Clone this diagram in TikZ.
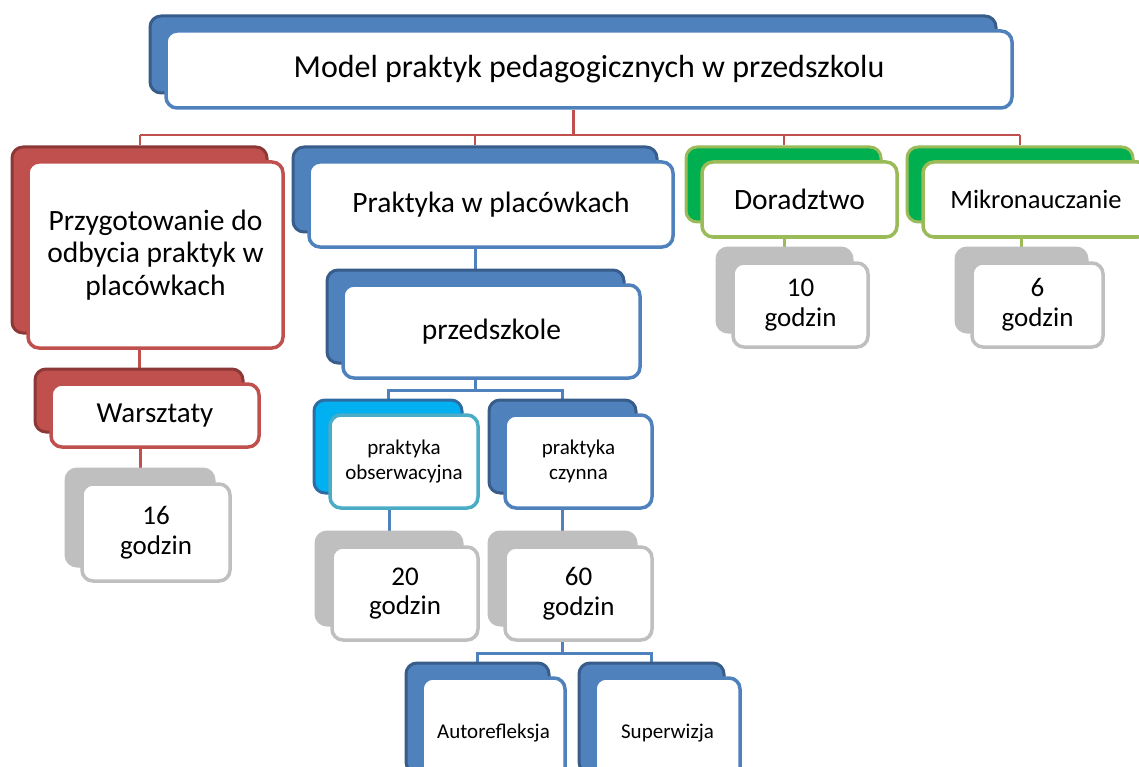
\documentclass[tikz,border=0pt]{standalone}
\usepackage{fontspec}
\setmainfont{Carlito}
\pgfdeclarelayer{bg}
\pgfsetlayers{bg,main}
\definecolor{bl}{HTML}{4F81BD}
\definecolor{bld}{HTML}{385D8A}
\definecolor{rd}{HTML}{C0504D}
\definecolor{rdd}{HTML}{8C3836}
\definecolor{gy}{HTML}{BFBFBF}
\definecolor{gn}{HTML}{00B050}
\definecolor{gnl}{HTML}{9BBB59}
\definecolor{cy}{HTML}{00B0F0}
\definecolor{cyd}{HTML}{2E6DA4}
\definecolor{cyl}{HTML}{4BACC6}
\tikzset{
  backbox/.style={rectangle,rounded corners=11pt,line width=3pt,inner sep=0pt},
  frontbox/.style={rectangle,rounded corners=11pt,line width=3.5pt,fill=white,inner sep=0pt,align=center,text=black},
  blueback/.style={fill=bl,draw=bld},
  bluefront/.style={draw=bl},
  redback/.style={fill=rd,draw=rdd},
  redfront/.style={draw=rd},
  greyback/.style={fill=gy,draw=gy},
  greyfront/.style={draw=gy},
  greenback/.style={fill=gn,draw=gnl},
  greenfront/.style={draw=gnl},
  cyanback/.style={fill=cy,draw=cyd},
  cyanfront/.style={draw=cyl},
  redline/.style={draw=rd,line width=2pt},
  redthick/.style={draw=rd,line width=3pt},
  blueline/.style={draw=bl,line width=3pt},
  greenline/.style={draw=gnl,line width=2.5pt},
}
% #1 name, #2 kind, #3 x, #4 y (front top-left), #5 w, #6 h, #7 font size, #8 text
\newcommand\cbox[9][110]{%
  \node[backbox,#3back,minimum width=#6pt,minimum height=#7pt] (#2b) at (#4-16+#6/2,#5-15+#7/2) {};
  \node[frontbox,#3front,minimum width=#6pt,minimum height=#7pt,font=\fontsize{#8}{\the\dimexpr #8pt*#1/100\relax}\selectfont] (#2) at (#4+#6/2,#5+#7/2) {#9};
}
\begin{document}
\begin{tikzpicture}[x=1pt,y=-1pt]
\useasboundingbox (0,0) rectangle (1139,767);
\clip (0,0) rectangle (1139,767);

\cbox{top}{blue}{166}{31}{846}{77}{32}{Model praktyk pedagogicznych w przedszkolu}
\cbox{prz}{red}{28}{162}{255}{186}{29.5}{Przygotowanie do\\odbycia praktyk w\\placówkach}
\cbox{war}{red}{51}{384}{208}{63}{29}{Warsztaty}
\cbox{h16}{grey}{82}{484}{148}{97}{27}{16\\godzin}
\cbox{pla}{blue}{309}{162}{364}{85}{29.5}{Praktyka w placówkach}
\cbox{prd}{blue}{343}{285}{297}{93}{29.5}{przedszkole}
\cbox[118]{obs}{cyan}{330}{415}{148}{93}{21}{praktyka\\obserwacyjna}
\cbox[118]{czy}{blue}{505}{415}{147}{93}{21}{praktyka\\czynna}
\cbox{h20}{grey}{332}{547}{146}{93}{27}{20\\godzin}
\cbox{h60}{grey}{505}{547}{147}{93}{27}{60\\godzin}
\cbox{aut}{blue}{422}{678}{143}{110}{21}{Autorefleksja}
\cbox{sup}{blue}{595}{678}{145}{110}{21}{Superwizja}
\cbox{dor}{green}{702}{162}{195}{75}{29.5}{Doradztwo}
\cbox{h10}{grey}{733}{263}{135}{84}{27}{10\\godzin}
\cbox{mik}{green}{923}{162}{226}{75}{26.5}{Mikronauczanie}
\cbox{h6}{grey}{972}{263}{131}{84}{27}{6\\godzin}

\coordinate (hub) at (573,135);
\begin{pgfonlayer}{bg}
  \fill[white] (0,0) rectangle (1139,767);
  \draw[redthick] (top.south -| hub) -- (hub);
  \draw[redline] (przb.north |- hub) -- (mikb.north |- hub);
  \foreach \c in {przb,plab,dorb,mikb}
    \draw[redline] (\c.north) -- (\c.north |- hub);
  \draw[redthick] (warb.north) -- (warb.north |- prz.south);
  \draw[redthick] (h16b.north) -- (h16b.north |- war.south);
  \draw[blueline] (prdb.north) -- (prdb.north |- pla.south);
  \coordinate (b1) at (prdb.south |- 0,390);
  \draw[blueline] (b1 |- prd.south) -- (b1) -| (obsb.north);
  \draw[blueline] (b1) -| (czyb.north);
  \draw[blueline] (h20b.north) -- (h20b.north |- obs.south);
  \draw[blueline] (h60b.north) -- (h60b.north |- czy.south);
  \coordinate (b2) at (h60b.south |- 0,653);
  \draw[blueline] (b2 |- h60.south) -- (b2) -| (autb.north);
  \draw[blueline] (b2) -| (supb.north);
  \draw[greenline] (h10b.north) -- (h10b.north |- dor.south);
  \draw[greenline] (h6b.north) -- (h6b.north |- mik.south);
\end{pgfonlayer}
\end{tikzpicture}
\end{document}
